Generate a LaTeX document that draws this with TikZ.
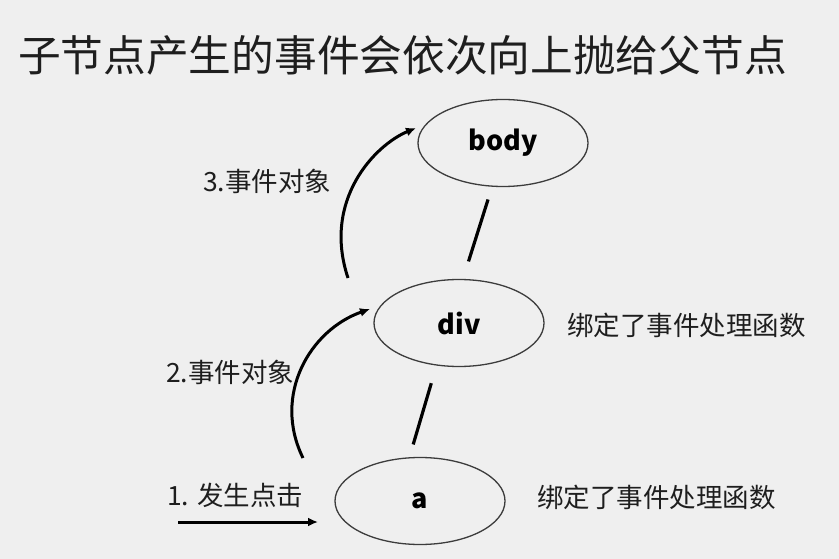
\documentclass[tikz,border=0pt]{standalone}
\usepackage{fontspec}
\setmainfont{Noto Sans CJK SC}
\usepackage{tikz}
\usetikzlibrary{shapes.geometric,arrows.meta}
\definecolor{bggray}{HTML}{EFEFEF}
\definecolor{txtgray}{HTML}{1E1E1E}
\definecolor{rimgray}{HTML}{3C3C3C}

\begin{document}
\begin{tikzpicture}[>={Latex[length=10pt,width=9pt]}, x=1pt, y=-1pt]
\tikzstyle{elem}=[ellipse,draw=rimgray,line width=1.3pt,minimum width=170pt,minimum height=87pt,inner sep=0pt,outer sep=0pt,font=\fontsize{27}{30}\selectfont\bfseries,text=black]
\tikzstyle{note}=[anchor=west,inner sep=0pt,font=\fontsize{26.5}{30}\selectfont,text=txtgray]
\tikzstyle{flow}=[->,line width=3pt]
\tikzstyle{link}=[line width=3.2pt]

\fill[bggray] (0,0) rectangle (839,559);
\useasboundingbox (0,0) rectangle (839,559);

\node[anchor=west,inner sep=0pt,font=\fontsize{42.7}{48}\selectfont,text=txtgray] (title) at (18,55) {子节点产生的事件会依次向上抛给父节点};

\node[elem] (body) at (503,143) {body};
\node[elem] (div)  at (459,323) {div};
\node[elem] (a)    at (420,501) {a};

\node[note] (bindd) at (567,325) {绑定了事件处理函数};
\node[note] (binda) at (537,497) {绑定了事件处理函数};
\node[note] (lbl3) at (203,181) {3.事件对象};
\node[note] (lbl2) at (166,372) {2.事件对象};
\node[note] (lbl1) at (167,495) {1. 发生点击};

\coordinate (click) at (178,522);
\coordinate (hit)   at (318,522);
\coordinate (up2s)  at (303,458);
\coordinate (up2e)  at (370,309);
\coordinate (up3s)  at (348,278);
\coordinate (up3e)  at (416,128);

\draw[link, shorten <=14pt, shorten >=19pt] (body.256) -- (div.85);
\draw[link, shorten <=19pt, shorten >=14pt] (div.242) -- (a.104);

\draw[flow] (click) -- (hit);
\draw[flow] (up2s) .. controls (272,395) and (310,330) .. (up2e);
\draw[flow] (up3s) .. controls (322,200) and (375,145) .. (up3e);
\end{tikzpicture}
\end{document}
